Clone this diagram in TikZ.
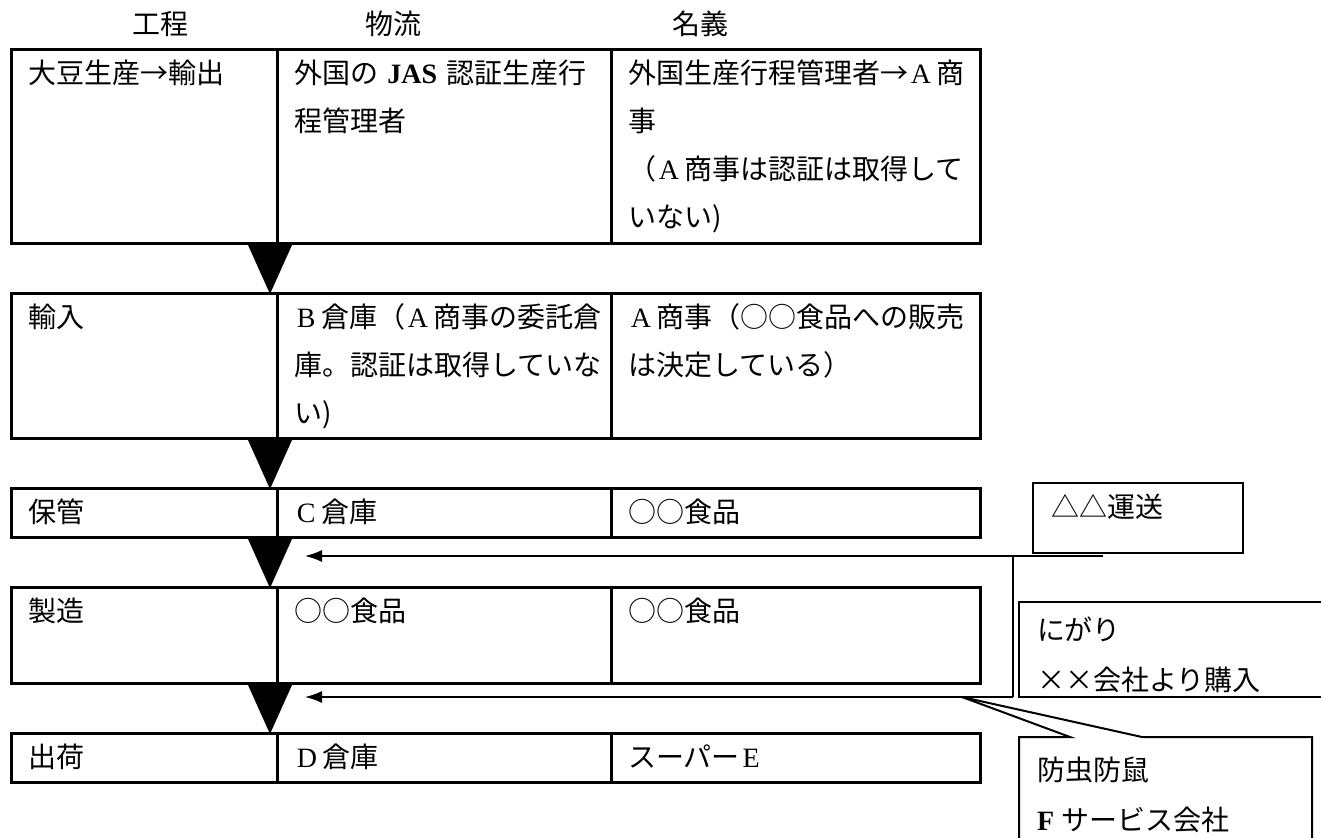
\documentclass[tikz,border=0pt]{standalone}
\usepackage{fontspec}
\setmainfont{Noto Sans CJK JP}
\newfontfamily\latfont{Liberation Serif}
\usetikzlibrary{arrows,arrows.meta,positioning,shapes}
\newcommand\lat[1]{\kern.1em{\latfont #1}\kern.2em}
\newcommand\cellfont{\fontsize{28}{48}\selectfont}
\newcommand\notefont{\fontsize{28}{50}\selectfont}

\begin{document}
\begin{tikzpicture}[x=1pt,y=-1pt,
            cell/.style n args={2}{draw,line width=3pt,anchor=north west,outer sep=0pt,
              inner xsep=17pt,inner ysep=0pt,align=left,font=\cellfont,
              text width=#1pt-34pt,text height=34pt,text depth=#2pt-34pt},
            note/.style n args={3}{draw,line width=2pt,anchor=north west,outer sep=0pt,
              inner xsep=18pt,inner ysep=0pt,align=left,font=\notefont,
              text width=#1pt-36pt,text height=#3pt,text depth=#2pt-#3pt},
            head/.style={font=\cellfont},
            feed/.style={draw,line width=1.5pt,-{Latex[length=17pt,width=12pt]}},
            lead/.style={draw,line width=2pt}
          ]
          \useasboundingbox (0,0) rectangle (1321,837);
          \clip (0,0) rectangle (1321,837);

          %headers
          \node[head] (hkotei) at (160,24) {工程};
          \node[head] (hbutsu) at (393,24) {物流};
          \node[head] (hmeigi) at (700,24) {名義};

          %rows
          \node[cell={266}{193}] (kotei1) at (11,50) {大豆生産→輸出};
          \node[cell={334}{193},right=0pt of kotei1] (butsu1) {外国の~\textbf{\latfont JAS}~認証生産行\\程管理者};
          \node[cell={369}{193},right=0pt of butsu1] (meigi1) {外国生産行程管理者→\lat{A}商\\事\\（\lat{A}商事は認証は取得して\\いない)};

          \node[cell={266}{145},below=50pt of kotei1.south west,anchor=north west] (kotei2) {輸入};
          \node[cell={334}{145},right=0pt of kotei2] (butsu2) {\lat{B}倉庫（\lat{A}商事の委託倉\\庫。認証は取得していな\\い)};
          \node[cell={369}{145},right=0pt of butsu2] (meigi2) {\lat{A}商事（○○食品への販売\\は決定している）};

          \node[cell={266}{49},below=50pt of kotei2.south west,anchor=north west] (kotei3) {保管};
          \node[cell={334}{49},right=0pt of kotei3] (butsu3) {\lat{C}倉庫};
          \node[cell={369}{49},right=0pt of butsu3] (meigi3) {○○食品};

          \node[cell={266}{96},below=50pt of kotei3.south west,anchor=north west] (kotei4) {製造};
          \node[cell={334}{96},right=0pt of kotei4] (butsu4) {○○食品};
          \node[cell={369}{96},right=0pt of butsu4] (meigi4) {○○食品};

          \node[cell={266}{49},below=50pt of kotei4.south west,anchor=north west] (kotei5) {出荷};
          \node[cell={334}{49},right=0pt of kotei5] (butsu5) {\lat{D}倉庫};
          \node[cell={369}{49},right=0pt of butsu5] (meigi5) {スーパー\lat{E}};

          %flow triangles
          \foreach \a/\b in {1/2,2/3,3/4,4/5}
            \fill ([shift={(-29pt,-2pt)}]butsu\a.south west) -- ([shift={(15pt,-2pt)}]butsu\a.south west)
              -- ([shift={(-7pt,-1pt)}]butsu\b.north west) -- cycle;

          %side boxes
          \node[note={210}{70}{34}] (unsou) at (1033,483) {△△運送};
          \node[note={320}{95}{38}] (nigari) at (1019,602) {にがり\\××会社より購入};
          \node[note={293}{130}{43},draw=none] (bochu) at (1019,737) {防虫防鼠\\\textbf{\latfont F}\kern.25em サービス会社};

          %connectors
          \coordinate (unsoend) at (1103,556);
          \coordinate (in1) at (305,556);
          \coordinate (knee) at (1013,556);
          \coordinate (knee2) at (1013,697);
          \coordinate (in2) at (305,697);
          \coordinate (tip) at (962,697);
          \path[feed] (unsoend) -- (in1);
          \path[lead,line width=1.5pt] (knee) -- (knee2);
          \path[feed] (knee2) -- (in2);
          \path[lead] (tip) -- ([xshift=51pt]bochu.north west) -- (bochu.north west) -- (bochu.south west);
          \path[lead] (tip) -- ([xshift=123pt]bochu.north west) -- (bochu.north east) -- (bochu.south east);
      \end{tikzpicture}
\end{document}
